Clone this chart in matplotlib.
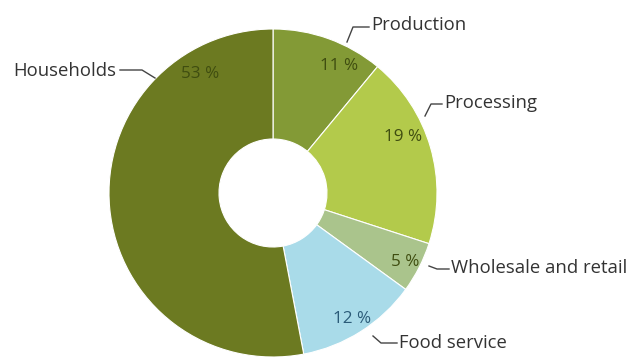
import matplotlib.pyplot as plt

# food waste by sector, share of total
sectors = ["Production", "Processing", "Wholesale and retail", "Food service", "Households"]
shares = [11, 19, 5, 12, 53]
pct_labels = ["11 %", "19 %", "5 %", "12 %", "53 %"]
colors = ["#839a36", "#b3ca4b", "#aac48c", "#a9dbe9", "#6c7a21"]

W, H = 630, 360
plt.rcParams["font.family"] = ["Open Sans", "DejaVu Sans"]

fig = plt.figure(figsize=(W / 100, H / 100), dpi=100)
ax = fig.add_axes([0, 0, 1, 1])


def Y(y):
    # pixel row from top -> data y
    return H - y


cx, cy, r_out, r_in = 273, 193, 164, 54
ax.pie(shares, colors=colors, startangle=90, counterclock=False,
       center=(cx, Y(cy)), radius=r_out, frame=True,
       wedgeprops=dict(width=r_out - r_in, edgecolor="white", linewidth=0.8))
ax.set_xlim(0, W)
ax.set_ylim(0, H)
ax.set_aspect("equal")
ax.axis("off")

# percentage labels inside the ring
pct_pos = [(339, 66), (403, 137), (405, 262), (352, 319), (200, 74)]
pct_col = ["#3f4d10", "#3f4d10", "#3f4d10", "#2b5b78", "#3f4d10"]
for t, (x, y), c in zip(pct_labels, pct_pos, pct_col):
    ax.text(x, Y(y), t, ha="center", va="center", fontsize=12.3, color=c)

# category names with leader lines
name_pos = [(371, 25, "left"), (444, 103, "left"), (451, 268, "left"),
            (399, 343, "left"), (116, 71, "right")]
leaders = [
    [(347, 42), (353, 27), (369, 27)],
    [(425, 116), (431, 104), (442, 104)],
    [(429, 266), (437, 269), (449, 269)],
    [(373, 336), (381, 343), (397, 343)],
    [(120, 70), (142, 70), (155, 78)],
]
for name, (x, y, ha), pts in zip(sectors, name_pos, leaders):
    ax.text(x, Y(y), name, ha=ha, va="center", fontsize=13.3, color="#333333")
    ax.plot([p[0] for p in pts], [Y(p[1]) for p in pts], color="#444444", lw=1)

fig.savefig("out.png", dpi=100)
